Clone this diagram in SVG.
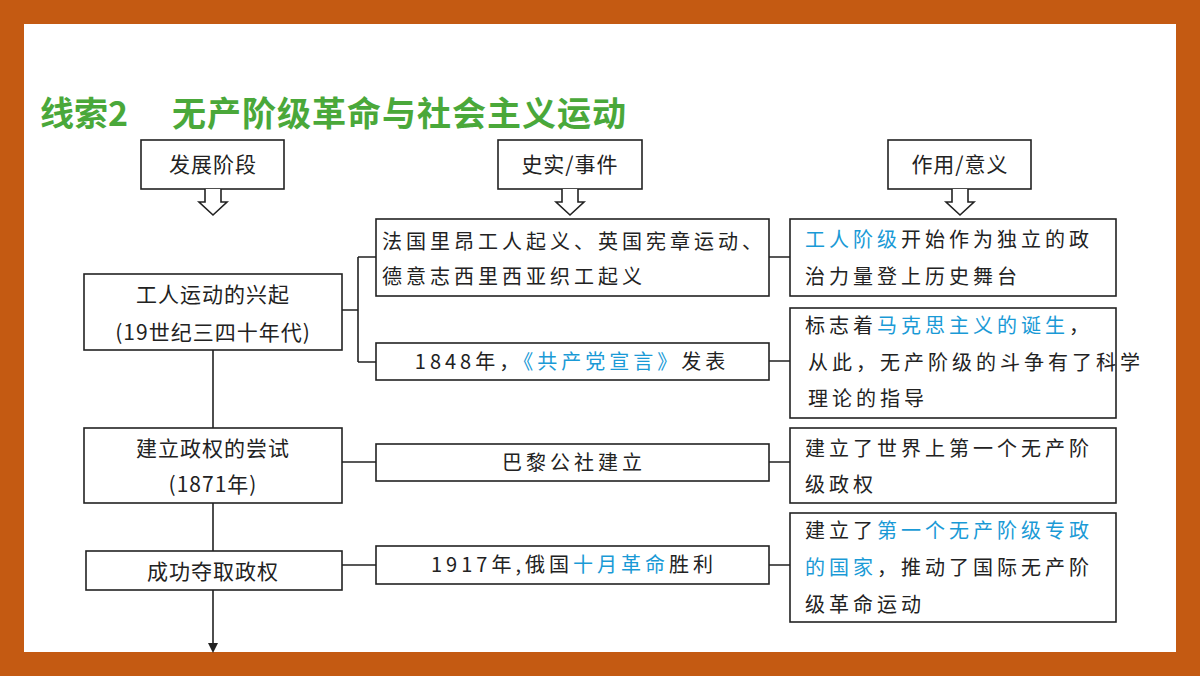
<svg xmlns="http://www.w3.org/2000/svg" width="1200" height="676" viewBox="0 0 1200 676">
<defs>
<style>
.b{fill:#fff;stroke:#222;stroke-width:1.6}
.t{font-family:"Noto Sans CJK SC","Liberation Serif",serif;font-size:21px;fill:#222;letter-spacing:1px}
.s{font-family:"Noto Sans CJK SC",serif;font-size:20px;fill:#222;letter-spacing:4px}
.bl{fill:#1a9ad6}
.l{stroke:#222;stroke-width:1.6;fill:none}
.ar{fill:#fff;stroke:#222;stroke-width:1.6}
</style>
</defs>
<rect width="1200" height="676" fill="#c45a12"/>
<rect x="24" y="24" width="1152" height="628" fill="#fff"/>
<text x="40" y="126" font-family="Noto Sans CJK SC,sans-serif" font-size="34" font-weight="bold" fill="#4aa83a">线索2</text>
<text x="172" y="126" font-family="Noto Sans CJK SC,sans-serif" font-size="34" font-weight="bold" fill="#4aa83a" letter-spacing="1">无产阶级革命与社会主义运动</text>
<g id="h1"><rect class="b" x="141" y="140" width="143" height="49"/><text class="t" x="213" y="172" text-anchor="middle">发展阶段</text><path class="ar" d="M205,189 V202 H199 L213,215 L227,202 H221 V189"/></g>
<g id="h2"><rect class="b" x="498" y="140" width="144" height="49"/><text class="t" x="570" y="172" text-anchor="middle">史实/事件</text><path class="ar" d="M562,189 V202 H556 L570,215 L584,202 H578 V189"/></g>
<g id="h3"><rect class="b" x="888" y="140" width="143" height="49"/><text class="t" x="960" y="172" text-anchor="middle">作用/意义</text><path class="ar" d="M952,189 V202 H946 L960,215 L974,202 H968 V189"/></g>
<g id="connectors">
<path class="l" d="M213,350 V428 M213,503 V551 M213,590 V645"/>
<path d="M208,643 L213,653 L218,643 Z" fill="#222"/>
<path class="l" d="M342,310 H358 M358,257 V362 M358,257 H376 M358,362 H376"/>
<path class="l" d="M342,462 H376 M342,565 H376"/>
<path class="l" d="M769,257 H790 M769,361 H790 M769,462 H790 M769,565 H790"/>
</g>
<g id="s1"><rect class="b" x="84" y="274" width="258" height="76"/><text class="t" x="213" y="302" text-anchor="middle">工人运动的兴起</text><text class="t" x="213" y="340" text-anchor="middle">(19世纪三四十年代)</text></g>
<g id="s2"><rect class="b" x="84" y="428" width="258" height="75"/><text class="t" x="213" y="456" text-anchor="middle">建立政权的尝试</text><text class="t" x="213" y="492" text-anchor="middle">(1871年)</text></g>
<g id="s3"><rect class="b" x="86" y="551" width="256" height="39"/><text class="t" x="213" y="579" text-anchor="middle">成功夺取政权</text></g>
<g id="e1"><rect class="b" x="376" y="219" width="393" height="77"/><text class="s" x="382" y="249">法国里昂工人起义、英国宪章运动、</text><text class="s" x="382" y="284">德意志西里西亚织工起义</text></g>
<g id="e2"><rect class="b" x="376" y="343" width="393" height="37"/><text class="s" x="572" y="369" text-anchor="middle">1848年，<tspan class="bl">《共产党宣言》</tspan>发表</text></g>
<g id="e3"><rect class="b" x="376" y="444" width="393" height="37"/><text class="s" x="574" y="470" text-anchor="middle">巴黎公社建立</text></g>
<g id="e4"><rect class="b" x="376" y="546" width="393" height="38"/><text class="s" x="574" y="572" text-anchor="middle">1917年,俄国<tspan class="bl">十月革命</tspan>胜利</text></g>
<g id="r1"><rect class="b" x="790" y="219" width="326" height="77"/><text class="s" x="805" y="247"><tspan class="bl">工人阶级</tspan>开始作为独立的政</text><text class="s" x="805" y="284">治力量登上历史舞台</text></g>
<g id="r2"><rect class="b" x="790" y="308" width="326" height="110"/><text class="s" x="805" y="333">标志着<tspan class="bl">马克思主义的诞生</tspan>，</text><text class="s" x="808" y="370" font-size="18" letter-spacing="3">从此，无产阶级的斗争有了科学</text><text class="s" x="808" y="406" font-size="18" letter-spacing="3">理论的指导</text></g>
<g id="r3"><rect class="b" x="790" y="428" width="326" height="75"/><text class="s" x="805" y="456">建立了世界上第一个无产阶</text><text class="s" x="805" y="492">级政权</text></g>
<g id="r4"><rect class="b" x="790" y="513" width="326" height="109"/><text class="s" x="805" y="538">建立了<tspan class="bl">第一个无产阶级专政</tspan></text><text class="s" x="805" y="575"><tspan class="bl">的国家</tspan>，推动了国际无产阶</text><text class="s" x="805" y="612">级革命运动</text></g>
</svg>
